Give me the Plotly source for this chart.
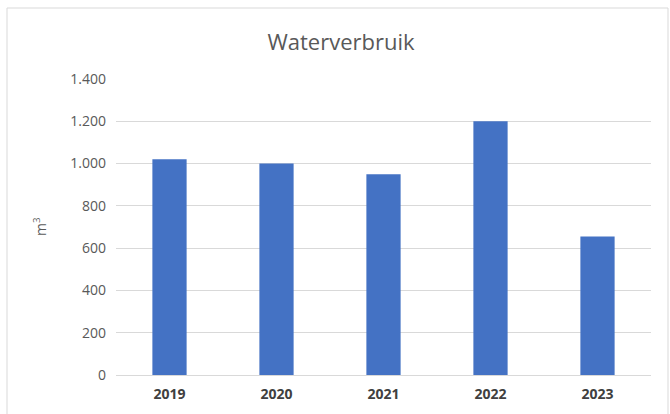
import plotly.graph_objects as go

years = ["2019", "2020", "2021", "2022", "2023"]
usage = [1020, 1000, 950, 1200, 655]
y_ticks = [0, 200, 400, 600, 800, 1000, 1200, 1400]
y_labels = ["0", "200", "400", "600", "800", "1.000", "1.200", "1.400"]

W, H = 670, 414
L, R, T, B = 116, 19, 79, 39
pw, ph = W - L - R, H - T - B

def px(x):
    return (x - L) / pw

def py(y):
    return 1 - (y - T) / ph

fig = go.Figure(go.Bar(x=years, y=usage, marker=dict(color="#4472C4", line=dict(width=0))))

fig.update_layout(
    width=W, height=H,
    margin=dict(l=L, r=R, t=T, b=B, autoexpand=False),
    paper_bgcolor="white", plot_bgcolor="white",
    bargap=0.68,
    showlegend=False,
    font=dict(family="Open Sans", color="#595959"),
    title=dict(text="Waterverbruik", x=341 / W, xanchor="center", xref="container",
               y=1 - 42 / H, yanchor="middle", font=dict(size=22, color="#595959")),
    xaxis=dict(showgrid=False, showline=True, linecolor="#d9d9d9", linewidth=1,
               ticks="", automargin=False, ticklabelstandoff=6,
               tickfont=dict(size=14, color="#404040", family="Open Sans"),
               tickprefix="<b>", ticksuffix="</b>"),
    yaxis=dict(range=[0, 1400], tickvals=y_ticks, ticktext=y_labels,
               showgrid=True, gridcolor="#d9d9d9", gridwidth=1,
               zeroline=False, showline=False, ticks="", automargin=False,
               ticklabelstandoff=9,
               tickfont=dict(size=14, color="#595959")),
    annotations=[dict(text="m<sup>3</sup>", xref="paper", yref="paper",
                      x=px(40), y=py(227), xanchor="center", yanchor="middle",
                      textangle=-90, showarrow=False,
                      font=dict(size=14, color="#595959"))],
    shapes=[dict(type="rect", xref="paper", yref="paper",
                 x0=px(7), x1=px(668), y0=py(8), y1=py(420),
                 line=dict(color="#d9d9d9", width=1), layer="below")],
)

fig.write_html("out.html", config={"displayModeBar": False},
               post_script="document.body.style.margin='0';")
